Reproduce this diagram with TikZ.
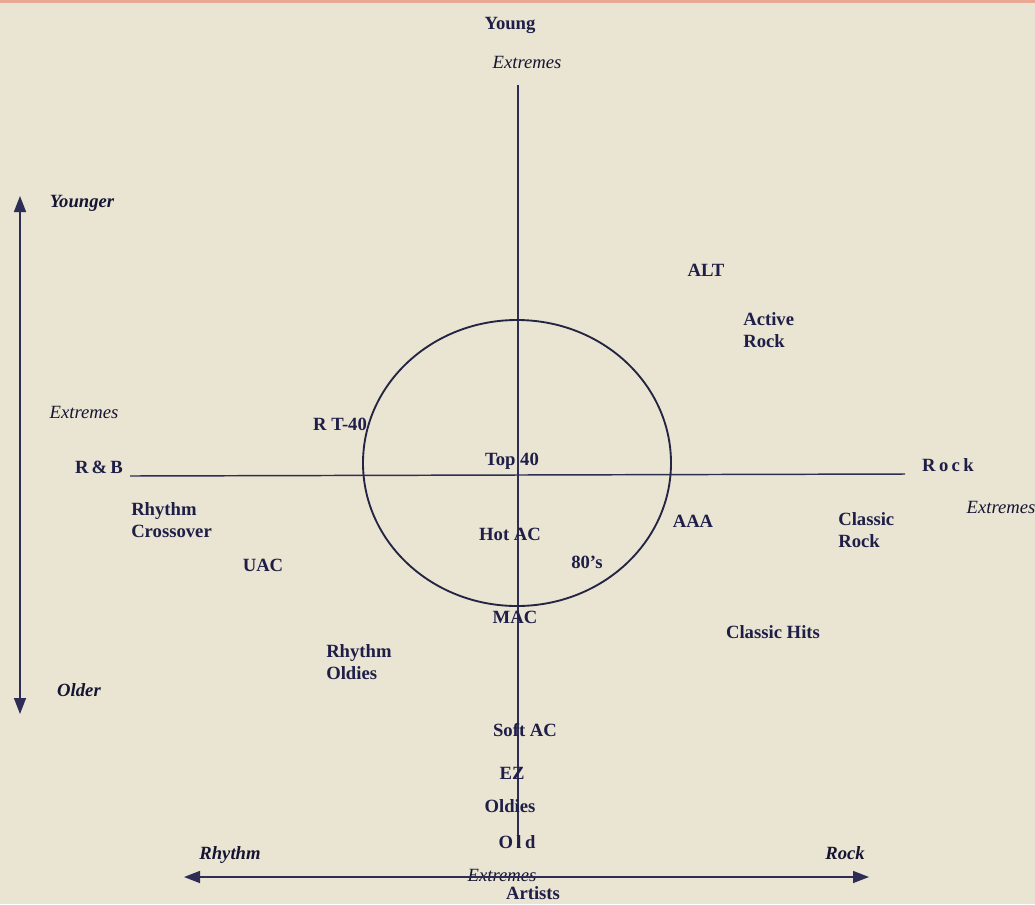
\documentclass[tikz,border=0pt]{standalone}
\usepackage{fontspec}
\setmainfont{Liberation Serif}
\usetikzlibrary{arrows.meta}
\definecolor{paper}{RGB}{234,228,210}
\definecolor{ink}{RGB}{30,30,72}
\definecolor{axis}{RGB}{45,45,85}
\definecolor{rim}{RGB}{232,168,148}
\begin{document}
\begin{tikzpicture}[x=0.75pt, y=-0.75pt,
    lbl/.style={text=ink, font=\fontsize{14}{16}\selectfont\bfseries, inner sep=0pt, align=left},
    spaced/.style={lbl, font=\fontsize{14}{16}\selectfont\bfseries\addfontfeature{LetterSpace=18}},
    note/.style={text=ink!70!black, font=\fontsize{14}{16}\selectfont\itshape, inner sep=0pt},
    boldnote/.style={note, font=\fontsize{14}{16}\selectfont\bfseries\itshape},
    axisline/.style={draw=axis, line width=1.1pt},
    ring/.style={draw=axis!80!black, line width=1.4pt},
    scalearrow/.style={axisline, {Triangle[length=12pt, width=9pt]}-{Triangle[length=12pt, width=9pt]}}
]
% page
\useasboundingbox (0,0) rectangle (1035,904);
\fill[paper] (0,0) rectangle (1035,904);
\fill[rim] (0,0) rectangle (1035,3);

% axes and circle
\coordinate (vtop) at (518,85);
\coordinate (vbot) at (518,848);
\coordinate (hleft) at (130,476);
\coordinate (hright) at (905,474);
\draw[axisline] (vtop) -- (vbot);
\draw[axisline] (hleft) -- (hright);
\draw[ring] (517,463) ellipse [x radius=154, y radius=143];

% age scale on the left
\coordinate (ageup) at (20,196);
\coordinate (agedown) at (20,714);
\draw[scalearrow] (agedown) -- (ageup);
\node[boldnote] (younger) at (82,203) {Younger};
\node[note] (extleft) at (84,412) {Extremes};
\node[boldnote] (older) at (79,690) {Older};

% artists scale at the bottom
\coordinate (artleft) at (184,877);
\coordinate (artright) at (869,877);
\node[note] (extbottom) at (502,875) {Extremes};
\draw[scalearrow] (artleft) -- (artright);
\node[boldnote] (rhythmend) at (230,855) {Rhythm};
\node[boldnote] (rockend) at (845,853) {Rock};
\node[lbl] (artists) at (533,893) {Artists};

% axis ends
\node[lbl] (young) at (510,25) {Young};
\node[note] (exttop) at (527,62) {Extremes};
\node[lbl] (rnb) at (99,467) {R\,\&\,B};
\node[spaced] (rock) at (948,465) {Rock};
\node[note] (extright) at (1001,507) {Extremes};
\node[spaced] (old) at (517,842) {Old};

% formats
\node[lbl] (alt) at (706,270) {ALT};
\node[lbl, anchor=west] (active) at (743,330) {Active\\Rock};
\node[lbl] (rt40) at (340,424) {R T-40};
\node[lbl] (top40) at (512,461) {Top 40};
\node[lbl, anchor=west] (crossover) at (131,520) {Rhythm\\Crossover};
\node[lbl] (hotac) at (510,534) {Hot AC};
\node[lbl] (aaa) at (693,521) {AAA};
\node[lbl, anchor=west] (classicrock) at (838,530) {Classic\\Rock};
\node[lbl] (uac) at (263,565) {UAC};
\node[lbl] (eighties) at (587,562) {80's};
\node[lbl] (mac) at (515,617) {MAC};
\node[lbl] (classichits) at (773,632) {Classic Hits};
\node[lbl, anchor=west] (rhythmoldies) at (326,662) {Rhythm\\Oldies};
\node[lbl] (softac) at (525,730) {Soft AC};
\node[lbl] (ez) at (512,773) {EZ};
\node[lbl] (oldies) at (510,806) {Oldies};
\end{tikzpicture}
\end{document}
